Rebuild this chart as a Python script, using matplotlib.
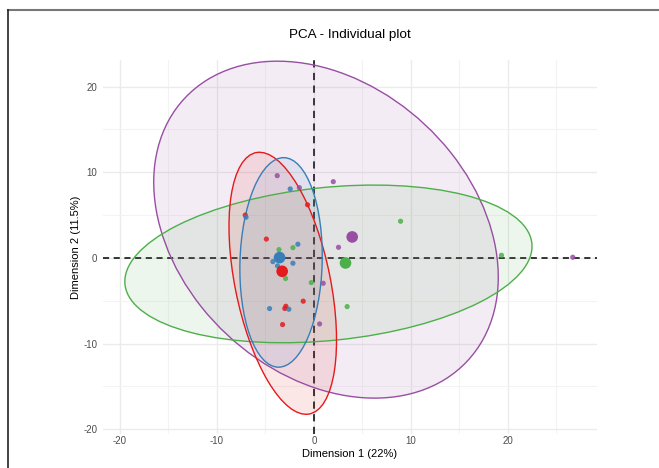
import numpy as np
import matplotlib.pyplot as plt
from matplotlib.patches import Ellipse
from matplotlib.lines import Line2D

plt.rcParams['font.family'] = ['Liberation Sans', 'DejaVu Sans']
plt.rcParams['axes.unicode_minus'] = False

# group colours (Set1)
groups = ['red', 'blue', 'green', 'purple']
colors = {'red': '#E41A1C', 'blue': '#377EB8', 'green': '#4DAF4A', 'purple': '#984EA3'}

# individuals
red_x = [-0.65, -7.08, -4.9, -1.1, -2.89, -3.0, -3.23]
red_y = [6.2, 5.0, 2.2, -5.05, -5.64, -5.9, -7.78]
blue_x = [-2.44, -7.0, -1.65, -4.23, -2.16, -3.75, -2.58, -4.57]
blue_y = [8.05, 4.75, 1.6, -0.43, -0.62, -0.93, -5.99, -5.91]
green_x = [-2.16, -3.6, -2.92, -0.27, 3.43, 8.94, 19.35]
green_y = [1.2, 0.97, -2.4, -2.88, -5.68, 4.28, 0.31]
purple_x = [-3.78, -1.5, 2.0, 2.54, 0.96, 0.59, 26.7]
purple_y = [9.6, 8.2, 8.9, 1.24, -2.96, -7.7, 0.08]

points = {'red': (red_x, red_y), 'blue': (blue_x, blue_y),
          'green': (green_x, green_y), 'purple': (purple_x, purple_y)}

# group centroids
cent_x = {'red': -3.27, 'blue': -3.54, 'green': 3.26, 'purple': 3.95}
cent_y = {'red': -1.56, 'blue': 0.04, 'green': -0.59, 'purple': 2.45}

# confidence ellipses: centre, full axes, angle (deg)
ell_cx = {'purple': 1.25, 'green': 1.5, 'red': -3.21, 'blue': -3.385}
ell_cy = {'purple': 3.3, 'green': -0.7, 'red': -2.96, 'blue': -0.525}
ell_w = {'purple': 42.7, 'green': 42.24, 'red': 31.0, 'blue': 24.46}
ell_h = {'purple': 31.4, 'green': 17.84, 'red': 9.86, 'blue': 8.48}
ell_ang = {'purple': -54.9, 'green': 6.8, 'red': -80.05, 'blue': 88.6}

fig = plt.figure(figsize=(6.59, 4.68), dpi=100)
ax = fig.add_axes([103 / 659, 1 - 434 / 468, 494 / 659, 374 / 468])

ax.set_xlim(-21.75, 29.2)
ax.set_ylim(-20.55, 23.1)
ax.set_xticks([-20, -10, 0, 10, 20])
ax.set_yticks([-20, -10, 0, 10, 20])
ax.set_xticks([-15, -5, 5, 15, 25], minor=True)
ax.set_yticks([-15, -5, 5, 15], minor=True)
ax.grid(True, which='major', color='#EBEBEB', linewidth=1.0, zorder=0)
ax.grid(True, which='minor', color='#F3F3F3', linewidth=0.8, zorder=0)
ax.set_axisbelow(True)
for s in ax.spines.values():
    s.set_visible(False)
ax.tick_params(which='both', length=0, labelsize=7, labelcolor='#4D4D4D')
ax.tick_params(axis='x', pad=1.5)
ax.tick_params(axis='y', pad=4)

ax.axhline(0, color='black', linestyle=(0, (4, 3)), linewidth=1.1, zorder=1)
ax.axvline(0, color='#222222', linestyle=(0, (4, 3)), linewidth=1.3, zorder=1)

for g in ['purple', 'green', 'red', 'blue']:
    e = Ellipse((ell_cx[g], ell_cy[g]), ell_w[g], ell_h[g], angle=ell_ang[g],
                facecolor=colors[g], alpha=0.1, edgecolor='none', zorder=2)
    ax.add_patch(e)
    e2 = Ellipse((ell_cx[g], ell_cy[g]), ell_w[g], ell_h[g], angle=ell_ang[g],
                 facecolor='none', edgecolor=colors[g], linewidth=1.0, zorder=3)
    ax.add_patch(e2)

for g in groups:
    xs, ys = points[g]
    ax.scatter(xs, ys, s=14, color=colors[g], alpha=0.85, edgecolors='none', zorder=4)
for g in groups:
    ax.scatter([cent_x[g]], [cent_y[g]], s=70, color=colors[g], edgecolors='none', zorder=5)

ax.set_title('PCA - Individual plot', fontsize=9.7, pad=16)
ax.set_xlabel('Dimension 1 (22%)', fontsize=8, labelpad=2)
ax.set_ylabel('Dimension 2 (11.5%)', fontsize=8)
ax.yaxis.set_label_coords(-0.045, 0.5)

# frame of the original panel
fig.add_artist(Line2D([8 / 659, 1], [1 - 10 / 468, 1 - 10 / 468], color='#777777', linewidth=1.5))
fig.add_artist(Line2D([8 / 659, 8 / 659], [0, 1 - 10 / 468], color='#222222', linewidth=1.2))

fig.savefig('out.png', dpi=100)
